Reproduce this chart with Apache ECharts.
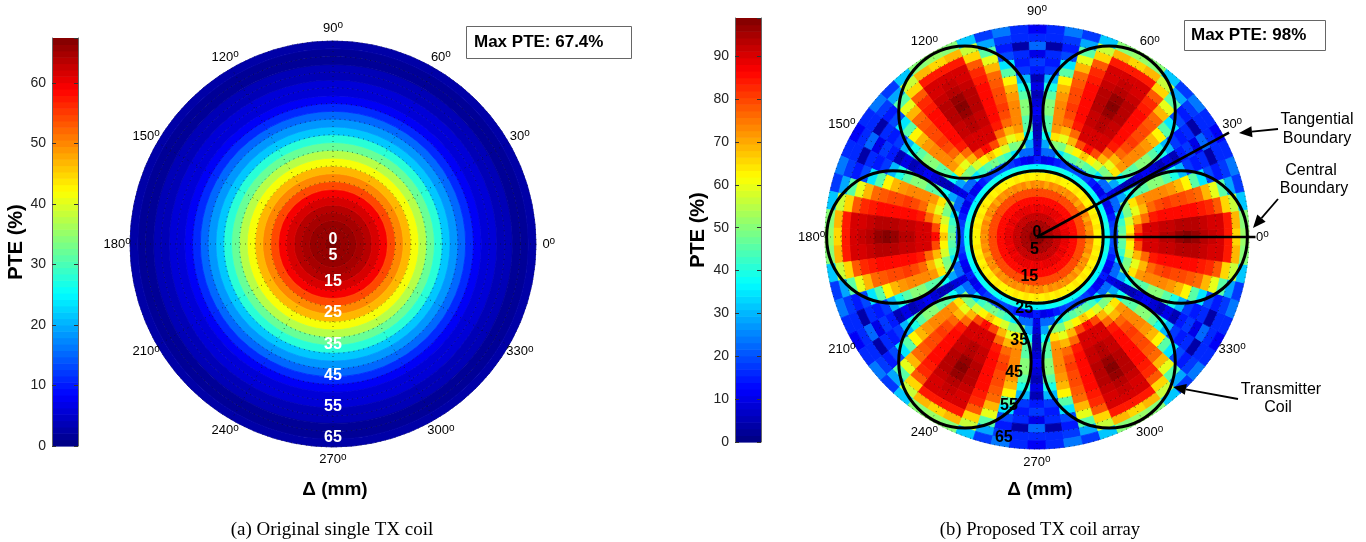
<!DOCTYPE html>
<html><head><meta charset="utf-8">
<style>html,body{margin:0;padding:0;background:#fff}#c{width:1366px;height:542px}</style>
<script src="https://cdn.jsdelivr.net/npm/echarts@6/dist/echarts.min.js"></script>
</head><body><div id="c"></div>
<script>
// ---------- data ----------
const ringStep = 2.5;              // mm per ring
const sectorStep = 5;              // degrees per cell
const rMax = 65;
const maxA = 67.4, maxB = 98.9;
const rLabels = [0,5,15,25,35,45,55,65];
const angleLabels = [0,30,60,90,120,150,180,210,240,270,300,330];
const coilAngles = [0,60,120,180,240,300];
const coilOrbit = 44.2, coilRadius = 20.3;
const boundaryAngles = [0,28.5];

// (a) single coil: PTE per ring, centre outward
const singleRings = [67,66.2,65.4,65,63.5,61.5,59,54,50,46.5,41.5,37,32,27.5,22,18,15,11.5,8.4,6,5.5,3.5,3.2,1.2,1.5,2.5];

// (b) array: PTE per ring in the 0..30 degree wedge (cells centred on 0,5,...,30 deg)
const w0  = [98,95,92,89,85,80,72,62,38,20,48,67,85,90,91,93,94,96,98,96,94,92,90,84,66,52];
const w5  = [98,95,92,89,85,80,73,62,38,20,45,62,80,90,90,92,92,93,94,93,92,91,90,84,68,50];
const w10 = [98,95,92,89,86,79,72,64,39,18,42,58,68,76,84,85,86,86,85,85,84,82,78,66,56,32];
const w15 = [98,95,92,89,85,80,73,62,38,15,35,48,60,68,76,80,81,80,79,78,76,68,60,45,28,18];
const w20 = [98,95,92,88,85,80,71,64,38,12,22,50,64,72,74,74,74,72,68,63,46,34,20,14,18,24];
const w25 = [98,95,92,89,86,79,73,62,37,10,22,28,38,45,45,50,50,45,40,30,18,14,16,4,16,16];
const w30 = [98,95,92,89,85,80,72,64,36,14,10,8,5,6,8,12,8,5,10,6,14,18,10,22,16,12];
const wedge = [w0,w5,w10,w15,w20,w25,w30];

const barLevels = Array.from({length:64},(_,i)=>i);
const ticksA = [0,10,20,30,40,50,60], ticksB = [0,10,20,30,40,50,60,70,80,90];

// ---------- helpers ----------
const cl = v => Math.max(0,Math.min(1,v));
function jet(t){
  const q = (Math.min(63,Math.floor(t*64))+0.5)/64;
  const c = f => Math.round(255*cl(1.5-Math.abs(4*q-f)));
  return `rgb(${c(3)},${c(2)},${c(1)})`;
}
const cellsA = singleRings.map((v,i)=>[i*ringStep,(i+1)*ringStep,0,360,v]);
const cellsB = [];
wedge[0].forEach((_,ring)=>{
  for(let k=0;k<72;k++){
    let m = k%12; if(m>6) m = 12-m;
    const a = k*sectorStep;
    cellsB.push([ring*ringStep,(ring+1)*ringStep,a-sectorStep/2,a+sectorStep/2,wedge[m][ring]]);
  }
});
function cellRender(max){
  return (p,api)=>{
    const c = api.coord([0,0]), o = api.coord([api.value(1),0]), i = api.coord([api.value(0),0]);
    const col = jet(api.value(4)/max);
    return {type:'sector',shape:{cx:c[0],cy:c[1],r0:i[0]-c[0],r:o[0]-c[0],
      startAngle:-api.value(3)*Math.PI/180,endAngle:-api.value(2)*Math.PI/180,clockwise:true},
      style:{fill:col,stroke:col,lineWidth:0.8}};
  };
}
function barRender(max){
  return (p,api)=>{
    const i = api.value(0);
    const a = api.coord([0,i/64*max]), b = api.coord([1,(i+1)/64*max]);
    return {type:'rect',shape:{x:a[0],y:b[1],width:b[0]-a[0],height:a[1]-b[1]+0.6},style:{fill:jet((i+0.5)/64)}};
  };
}
function rLabelRender(color,size){
  return (p,api)=>{
    const v = api.value(0), q = api.coord([v,api.value(1)]);
    return {type:'text',x:q[0],y:q[1]+(v<10?-4:-9),
      style:{text:String(v),fill:color,font:`bold ${size}px "Liberation Sans"`,textAlign:'center',textVerticalAlign:'middle'}};
  };
}
const angleRich = {a:{fontFamily:'Liberation Sans',fontSize:13,color:'#222'},
  o:{fontFamily:'Liberation Sans',fontSize:10,color:'#222',verticalAlign:'top',padding:[0,0,6,0]}};
function angleLabelRender(p,api){
  const q = api.coord([api.value(0),api.value(1)]);
  return {type:'text',x:q[0],y:q[1],style:{text:`{a|${api.value(1)}}{o|o}`,rich:angleRich,align:'center',verticalAlign:'middle'}};
}
function coilRender(p,api){
  const c = api.coord([api.value(0),api.value(1)]);
  const o = api.coord([0,0]), e = api.coord([api.value(2),0]);
  return {type:'circle',shape:{cx:c[0],cy:c[1],r:e[0]-o[0]},style:{fill:'none',stroke:'#000',lineWidth:3}};
}
function lineRender(p,api){
  const o = api.coord([0,0]), e = api.coord([67,api.value(0)]);
  return {type:'line',shape:{x1:o[0],y1:o[1],x2:e[0],y2:e[1]},style:{stroke:'#000',lineWidth:2.6}};
}
function polarAxes(idx){
  const dots = {show:true,lineStyle:{color:'#111',type:[1,4],width:1,opacity:.6}};
  return {
    angle:{polarIndex:idx,type:'value',min:0,max:360,interval:30,startAngle:0,clockwise:false,z:4,
      axisLine:{show:false},axisTick:{show:false},axisLabel:{show:false},splitLine:dots},
    radius:{polarIndex:idx,type:'value',min:0,max:rMax,interval:5,z:4,
      axisLine:{show:false},axisTick:{show:false},axisLabel:{show:false},splitLine:dots}
  };
}
const pA = polarAxes(0), pB = polarAxes(1);
function barAxes(g,max,ticks,nameGap){
  const inT = {show:true,inside:true,length:4,lineStyle:{color:'#333'}};
  return [
   {gridIndex:g,type:'value',min:0,max:max,position:'left',interval:10,z:4,
    name:'PTE (%)',nameLocation:'middle',nameGap:nameGap,nameRotate:90,
    nameTextStyle:{fontFamily:'Liberation Sans',fontWeight:'bold',fontSize:20,color:'#000'},
    axisLine:{show:true,lineStyle:{color:'#666'}},axisTick:inT,splitLine:{show:false},
    axisLabel:{fontFamily:'Liberation Sans',fontSize:14,color:'#222',margin:6,showMaxLabel:false,
      formatter:v=>ticks.includes(v)?String(v):''}},
   {gridIndex:g,type:'value',min:0,max:max,position:'right',interval:10,z:4,
    axisLine:{show:true,lineStyle:{color:'#666'}},axisTick:inT,splitLine:{show:false},axisLabel:{show:false}}
  ];
}
const F='"Liberation Sans"';
function txt(x,y,s,size,weight,fam){return {type:'text',x:x,y:y,z:20,style:{text:s,fill:'#000',
  font:`${weight||''} ${size}px ${fam||F}`,textAlign:'center',textVerticalAlign:'middle'}};}
function arrow(x0,y0,x1,y1){
  const a=Math.atan2(y1-y0,x1-x0), L=13, W=5.5;
  const bx=x1-L*Math.cos(a), by=y1-L*Math.sin(a), nx=-Math.sin(a)*W, ny=Math.cos(a)*W;
  return [{type:'line',z:20,shape:{x1:x0,y1:y0,x2:bx,y2:by},style:{stroke:'#000',lineWidth:1.8}},
          {type:'polygon',z:20,shape:{points:[[x1,y1],[bx+nx,by+ny],[bx-nx,by-ny]]},style:{fill:'#000'}}];
}
function box(x,y,w,h,s,tx){
  return [{type:'rect',z:20,shape:{x:x+.5,y:y+.5,width:w,height:h},style:{fill:'#fff',stroke:'#666',lineWidth:1}},
    {type:'text',z:21,x:tx,y:y+h/2+.5,style:{text:s,fill:'#000',font:`bold 17px ${F}`,textAlign:'left',textVerticalAlign:'middle'}}];
}
const gfx = [
  ...box(466,26,165,32,'Max PTE: 67.4%',474),
  ...box(1184,20,141,30,'Max PTE: 98%',1191),
  txt(335,490,'Δ (mm)',19,'bold'),
  txt(1040,490,'Δ (mm)',19,'bold'),
  txt(332,530,'(a) Original single TX coil',19,'','"Liberation Serif"'),
  txt(1040,530,'(b) Proposed TX coil array',18.6,'','"Liberation Serif"'),
  txt(1317,120,'Tangential',16),txt(1317,139,'Boundary',16),
  txt(1311,171,'Central',16),txt(1314,189,'Boundary',16),
  txt(1281,390,'Transmitter',16),txt(1278,408,'Coil',16),
  ...arrow(1278,129,1239,133),...arrow(1278,199,1253,228),...arrow(1238,399,1173,387)
];
const labelR = rMax*1.063;
const option = {
  animation:false,
  backgroundColor:'#fff',
  polar:[{center:[333,244],radius:203},{center:[1037,237],radius:212}],
  angleAxis:[pA.angle,pB.angle],
  radiusAxis:[pA.radius,pB.radius],
  grid:[{left:52,top:38,width:26,height:408,show:false},{left:735,top:18,width:26,height:424,show:false}],
  xAxis:[{gridIndex:0,type:'value',min:0,max:1,show:false},{gridIndex:1,type:'value',min:0,max:1,show:false}],
  yAxis:[...barAxes(0,maxA,ticksA,25),...barAxes(1,maxB,ticksB,27)],
  graphic:{elements:gfx},
  series:[
    {type:'custom',coordinateSystem:'polar',polarIndex:0,z:1,silent:true,data:cellsA,renderItem:cellRender(maxA),encode:{radius:[0,1],angle:[2,3]}},
    {type:'custom',coordinateSystem:'polar',polarIndex:1,z:1,silent:true,data:cellsB,renderItem:cellRender(maxB),encode:{radius:[0,1],angle:[2,3]}},
    {type:'custom',coordinateSystem:'polar',polarIndex:0,z:6,silent:true,data:rLabels.map(v=>[v,270]),renderItem:rLabelRender('#fff',16),encode:{radius:0,angle:1}},
    {type:'custom',coordinateSystem:'polar',polarIndex:1,z:6,silent:true,data:rLabels.map(v=>[v,261]),renderItem:rLabelRender('#000',16),encode:{radius:0,angle:1}},
    {type:'custom',coordinateSystem:'polar',polarIndex:0,z:6,silent:true,data:angleLabels.map(a=>[labelR,a]),renderItem:angleLabelRender,encode:{radius:0,angle:1}},
    {type:'custom',coordinateSystem:'polar',polarIndex:1,z:6,silent:true,data:angleLabels.map(a=>[labelR,a]),renderItem:angleLabelRender,encode:{radius:0,angle:1}},
    {type:'custom',coordinateSystem:'polar',polarIndex:1,z:5,silent:true,
      data:[[0,0,coilRadius],...coilAngles.map(a=>[coilOrbit,a,coilRadius])],renderItem:coilRender,encode:{radius:0,angle:1}},
    {type:'custom',coordinateSystem:'polar',polarIndex:1,z:5,silent:true,data:boundaryAngles.map(a=>[a]),renderItem:lineRender,encode:{angle:0}},
    {type:'custom',coordinateSystem:'cartesian2d',xAxisIndex:0,yAxisIndex:0,z:1,silent:true,data:barLevels.map(i=>[i]),renderItem:barRender(maxA),encode:{y:0}},
    {type:'custom',coordinateSystem:'cartesian2d',xAxisIndex:1,yAxisIndex:2,z:1,silent:true,data:barLevels.map(i=>[i]),renderItem:barRender(maxB),encode:{y:0}}
  ]
};
echarts.init(document.getElementById('c'),null,{renderer:'canvas'}).setOption(option);
</script></body></html>
